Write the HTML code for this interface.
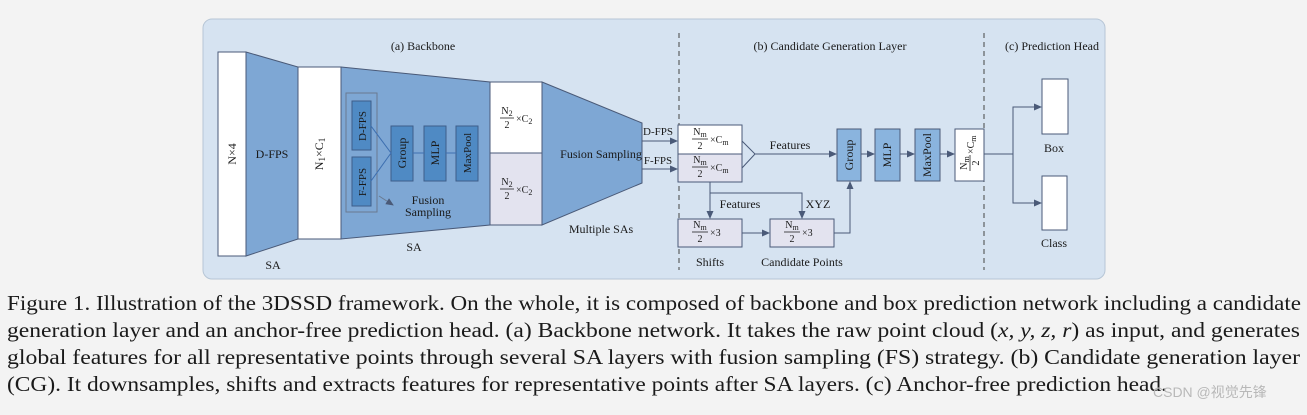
<!DOCTYPE html>
<html><head><meta charset="utf-8"><style>
html,body{margin:0;padding:0;background:#f3f3f3;}
svg{display:block;}
text{font-family:"Liberation Serif",serif;fill:#1a1a1a;}
</style></head><body>
<svg width="1307" height="415" viewBox="0 0 1307 415" xmlns="http://www.w3.org/2000/svg">
<defs>
<marker id="a" markerWidth="8" markerHeight="8" refX="7" refY="4" orient="auto" markerUnits="userSpaceOnUse"><path d="M0,0.5 L8,4 L0,7.5 z" fill="#4a5a78"/></marker>
</defs>
<rect x="203" y="19" width="902" height="260" rx="9" fill="#d6e3f1" stroke="#b7c6d6" stroke-width="1"/>
<g font-size="12">
<text x="423" y="50" text-anchor="middle">(a) Backbone</text>
<text x="830" y="50" text-anchor="middle">(b) Candidate Generation Layer</text>
<text x="1052" y="50" text-anchor="middle">(c) Prediction Head</text>
</g>
<g stroke="#444" stroke-dasharray="5,4" stroke-width="1"><line x1="679" y1="33" x2="679" y2="270"/><line x1="984" y1="33" x2="984" y2="270"/></g>
<!-- backbone -->
<g stroke="#4a5a78" stroke-width="1">
<rect x="218" y="52" width="28" height="204" fill="#fff"/>
<polygon points="246,52 298,67 298,239 246,256" fill="#7ea7d4"/>
<rect x="298" y="67" width="43" height="172" fill="#fff"/>
<polygon points="341,67 490,82 490,225 341,239" fill="#7ea7d4"/>
<rect x="490" y="82" width="52" height="71" fill="#fff"/>
<rect x="490" y="153" width="52" height="72" fill="#e3e3ef"/>
<polygon points="542,82 642,123 642,183 542,225" fill="#7ea7d4"/>
</g>
<rect x="346" y="93" width="31" height="119" fill="none" stroke="#6a7a90" stroke-width="1"/>
<g stroke="#3e5e8a" fill="#4f8ac4" stroke-width="1">
<rect x="352" y="101" width="19" height="49"/><rect x="352" y="157" width="19" height="49"/>
<rect x="391" y="126" width="22" height="55"/><rect x="424" y="126" width="22" height="55"/><rect x="456" y="126" width="22" height="55"/>
</g>
<g stroke="#3d6fb0" stroke-width="1"><line x1="371" y1="126" x2="391" y2="153"/><line x1="371" y1="181" x2="391" y2="153"/><line x1="413" y1="153" x2="424" y2="153"/><line x1="446" y1="153" x2="456" y2="153"/></g>
<line x1="379" y1="196" x2="393" y2="205" stroke="#6a7a90" marker-end="url(#a)"/>
<g font-size="12">
<text transform="translate(236,154) rotate(-90)" text-anchor="middle">N×4</text>
<text x="272" y="158" text-anchor="middle">D-FPS</text>
<text transform="translate(323,154) rotate(-90)" text-anchor="middle">N<tspan font-size="9" dy="2">1</tspan><tspan dy="-2">×C</tspan><tspan font-size="9" dy="2">1</tspan></text>
<text transform="translate(366,126) rotate(-90)" text-anchor="middle" font-size="11">D-FPS</text>
<text transform="translate(366,182) rotate(-90)" text-anchor="middle" font-size="11">F-FPS</text>
<text transform="translate(406,153) rotate(-90)" text-anchor="middle">Group</text>
<text transform="translate(439,153) rotate(-90)" text-anchor="middle">MLP</text>
<text transform="translate(471,153) rotate(-90)" text-anchor="middle" font-size="11">MaxPool</text>
<text x="428" y="204" text-anchor="middle">Fusion</text>
<text x="428" y="216" text-anchor="middle">Sampling</text>
<text x="601" y="158" text-anchor="middle">Fusion Sampling</text>
<text x="601" y="233" text-anchor="middle">Multiple SAs</text>
<text x="414" y="251" text-anchor="middle">SA</text>
<text x="273" y="269" text-anchor="middle">SA</text>
<text x="658" y="135" text-anchor="middle" font-size="11">D-FPS</text>
<text x="658" y="164" text-anchor="middle" font-size="11">F-FPS</text>
</g>
<g font-size="10">
<text x="507" y="114" text-anchor="middle">N<tspan font-size="8" dy="2">2</tspan></text><line x1="500" y1="118" x2="514" y2="118" stroke="#222" stroke-width="0.8"/><text x="507" y="128" text-anchor="middle">2</text><text x="516" y="122">×C<tspan font-size="8" dy="2">2</tspan></text>
<text x="507" y="185" text-anchor="middle">N<tspan font-size="8" dy="2">2</tspan></text><line x1="500" y1="189" x2="514" y2="189" stroke="#222" stroke-width="0.8"/><text x="507" y="199" text-anchor="middle">2</text><text x="516" y="193">×C<tspan font-size="8" dy="2">2</tspan></text>
</g>
<!-- CG -->
<g stroke="#4a5a78" stroke-width="1" fill="none">
<line x1="642" y1="141" x2="677" y2="141" marker-end="url(#a)"/>
<line x1="642" y1="169" x2="677" y2="169" marker-end="url(#a)"/>
<rect x="678" y="125" width="64" height="29" fill="#fff"/>
<rect x="678" y="154" width="64" height="28" fill="#e3e3ef"/>
<polyline points="742,141 755,154 742,168"/>
<line x1="755" y1="154" x2="836" y2="154" marker-end="url(#a)"/>
<line x1="710" y1="182" x2="710" y2="218" marker-end="url(#a)"/>
<polyline points="710,193 802,193 802,218" marker-end="url(#a)"/>
<rect x="678" y="219" width="64" height="28" fill="#e3e3ef"/>
<rect x="770" y="219" width="64" height="28" fill="#e3e3ef"/>
<line x1="742" y1="233" x2="769" y2="233" marker-end="url(#a)"/>
<polyline points="834,233 850,233 850,182" marker-end="url(#a)"/>
<rect x="837" y="129" width="24" height="52" fill="#8ab4de"/>
<rect x="875" y="129" width="25" height="52" fill="#8ab4de"/>
<rect x="915" y="129" width="25" height="52" fill="#8ab4de"/>
<rect x="955" y="129" width="29" height="52" fill="#fff"/>
<line x1="861" y1="154" x2="874" y2="154" marker-end="url(#a)"/>
<line x1="900" y1="154" x2="914" y2="154" marker-end="url(#a)"/>
<line x1="940" y1="154" x2="954" y2="154" marker-end="url(#a)"/>
<polyline points="984,154 1013,154"/>
<polyline points="1040,107 1013,107 1013,203 1040,203"/>
<line x1="1013" y1="107" x2="1041" y2="107" marker-end="url(#a)"/>
<line x1="1013" y1="203" x2="1041" y2="203" marker-end="url(#a)"/>
<rect x="1042" y="79" width="26" height="55" fill="#fff"/>
<rect x="1042" y="176" width="25" height="54" fill="#fff"/>
</g>
<g font-size="10">
<text x="700" y="135" text-anchor="middle">N<tspan font-size="8" dy="2">m</tspan></text><line x1="692" y1="139" x2="708" y2="139" stroke="#222" stroke-width="0.8"/><text x="700" y="149" text-anchor="middle">2</text><text x="710" y="143">×C<tspan font-size="8" dy="2">m</tspan></text>
<text x="700" y="163" text-anchor="middle">N<tspan font-size="8" dy="2">m</tspan></text><line x1="692" y1="167" x2="708" y2="167" stroke="#222" stroke-width="0.8"/><text x="700" y="177" text-anchor="middle">2</text><text x="710" y="171">×C<tspan font-size="8" dy="2">m</tspan></text>
<text x="700" y="228" text-anchor="middle">N<tspan font-size="8" dy="2">m</tspan></text><line x1="692" y1="232" x2="708" y2="232" stroke="#222" stroke-width="0.8"/><text x="700" y="242" text-anchor="middle">2</text><text x="710" y="236">×3</text>
<text x="792" y="228" text-anchor="middle">N<tspan font-size="8" dy="2">m</tspan></text><line x1="784" y1="232" x2="800" y2="232" stroke="#222" stroke-width="0.8"/><text x="792" y="242" text-anchor="middle">2</text><text x="802" y="236">×3</text>
<g transform="translate(969,155) rotate(-90)"><text x="-8" y="-2" text-anchor="middle">N<tspan font-size="8" dy="2">m</tspan></text><line x1="-16" y1="1" x2="0" y2="1" stroke="#222" stroke-width="0.8"/><text x="-8" y="10" text-anchor="middle">2</text><text x="1" y="5">×C<tspan font-size="8" dy="2">m</tspan></text></g>
</g>
<g font-size="12">
<text x="790" y="149" text-anchor="middle">Features</text>
<text x="740" y="208" text-anchor="middle">Features</text>
<text x="818" y="208" text-anchor="middle">XYZ</text>
<text x="710" y="266" text-anchor="middle">Shifts</text>
<text x="802" y="266" text-anchor="middle">Candidate Points</text>
<text transform="translate(853,155) rotate(-90)" text-anchor="middle">Group</text>
<text transform="translate(891,155) rotate(-90)" text-anchor="middle">MLP</text>
<text transform="translate(931,155) rotate(-90)" text-anchor="middle">MaxPool</text>
<text x="1054" y="152" text-anchor="middle">Box</text>
<text x="1054" y="247" text-anchor="middle">Class</text>
</g>
<!-- caption -->
<g font-size="21">
<text x="7" y="310" textLength="1294" lengthAdjust="spacingAndGlyphs">Figure 1. Illustration of the 3DSSD framework. On the whole, it is composed of backbone and box prediction network including a candidate</text>
<text x="7" y="337" textLength="1293" lengthAdjust="spacingAndGlyphs">generation layer and an anchor-free prediction head. (a) Backbone network. It takes the raw point cloud (<tspan font-style="italic">x, y, z, r</tspan>) as input, and generates</text>
<text x="7" y="364" textLength="1293" lengthAdjust="spacingAndGlyphs">global features for all representative points through several SA layers with fusion sampling (FS) strategy. (b) Candidate generation layer</text>
<text x="7" y="391" textLength="1160" lengthAdjust="spacingAndGlyphs">(CG). It downsamples, shifts and extracts features for representative points after SA layers. (c) Anchor-free prediction head.</text>
</g>
<text x="1153" y="397" font-size="14" style="font-family:'Liberation Sans','Noto Sans CJK SC',sans-serif;fill:#b8b8b8">CSDN @视觉先锋</text>
</svg>
</body></html>
